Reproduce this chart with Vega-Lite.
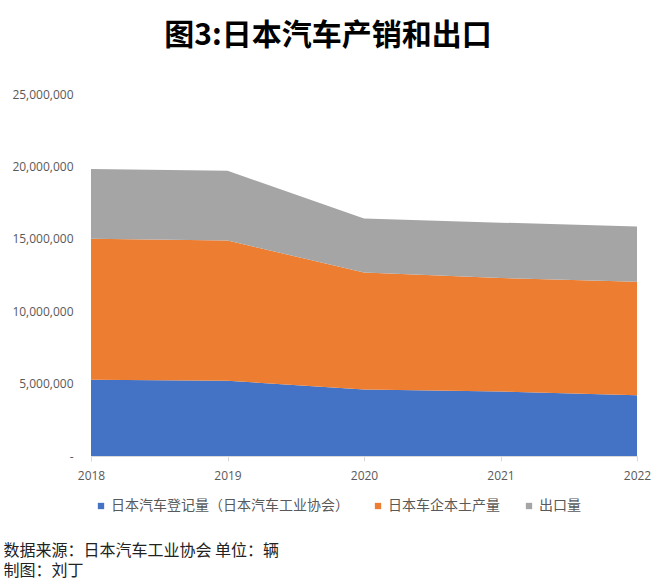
{
  "$schema": "https://vega.github.io/schema/vega-lite/v6.json",
  "width": 546,
  "height": 362,
  "autosize": {"type": "none"},
  "padding": {"left": 91, "top": 94, "right": 23, "bottom": 132},
  "background": "white",
  "config": {"view": {"stroke": null}},
  "title": {
    "text": "图3:日本汽车产销和出口",
    "font": "Noto Sans CJK SC",
    "fontSize": 30,
    "fontWeight": "bold",
    "color": "#000000",
    "anchor": "middle",
    "frame": "group",
    "dx": -36,
    "offset": 37
  },
  "data": {
    "values": [
      {"year": "2018", "series": "日本汽车登记量（日本汽车工业协会）", "value": 5270000},
      {"year": "2019", "series": "日本汽车登记量（日本汽车工业协会）", "value": 5195000},
      {"year": "2020", "series": "日本汽车登记量（日本汽车工业协会）", "value": 4600000},
      {"year": "2021", "series": "日本汽车登记量（日本汽车工业协会）", "value": 4450000},
      {"year": "2022", "series": "日本汽车登记量（日本汽车工业协会）", "value": 4200000},
      {"year": "2018", "series": "日本车企本土产量", "value": 9730000},
      {"year": "2019", "series": "日本车企本土产量", "value": 9685000},
      {"year": "2020", "series": "日本车企本土产量", "value": 8070000},
      {"year": "2021", "series": "日本车企本土产量", "value": 7845000},
      {"year": "2022", "series": "日本车企本土产量", "value": 7835000},
      {"year": "2018", "series": "出口量", "value": 4815000},
      {"year": "2019", "series": "出口量", "value": 4820000},
      {"year": "2020", "series": "出口量", "value": 3740000},
      {"year": "2021", "series": "出口量", "value": 3820000},
      {"year": "2022", "series": "出口量", "value": 3815000}
    ]
  },
  "transform": [
    {"calculate": "indexof(['日本汽车登记量（日本汽车工业协会）','日本车企本土产量','出口量'], datum.series)", "as": "stackOrder"}
  ],
  "mark": {"type": "area", "opacity": 1, "interpolate": "linear"},
  "encoding": {
    "x": {
      "field": "year",
      "type": "ordinal",
      "scale": {"type": "point", "padding": 0},
      "axis": {
        "labelAngle": 0,
        "labelFont": "Open Sans",
        "labelFontSize": 12,
        "labelColor": "#595959",
        "labelPadding": 9,
        "domainColor": "#d9d9d9",
        "tickColor": "#d9d9d9",
        "tickSize": 5,
        "title": ["数据来源：日本汽车工业协会  单位：辆", "制图：刘丁"],
        "titleFont": "Noto Sans CJK SC",
        "titleFontSize": 16,
        "titleFontWeight": "normal",
        "titleColor": "#222222",
        "titleLineHeight": 20,
        "titleAnchor": "start",
        "titleAlign": "left",
        "titleBaseline": "top",
        "titleX": -88,
        "titleY": 86,
        "titleLimit": 1000
      }
    },
    "y": {
      "field": "value",
      "type": "quantitative",
      "stack": "zero",
      "scale": {"domain": [0, 25000000], "nice": false},
      "axis": {
        "title": null,
        "grid": false,
        "domain": false,
        "ticks": false,
        "values": [0, 5000000, 10000000, 15000000, 20000000, 25000000],
        "labelExpr": "datum.value == 0 ? '-\u2002\u2002' : format(datum.value, ',')",
        "labelFont": "Open Sans",
        "labelFontSize": 12,
        "labelColor": "#595959",
        "labelPadding": 18
      }
    },
    "color": {
      "field": "series",
      "type": "nominal",
      "scale": {
        "domain": ["日本汽车登记量（日本汽车工业协会）", "日本车企本土产量", "出口量"],
        "range": ["#4472C4", "#ED7D31", "#A5A5A5"]
      },
      "legend": {
        "orient": "none",
        "legendX": 3,
        "legendY": 405,
        "direction": "horizontal",
        "title": null,
        "padding": 0,
        "symbolType": "square",
        "symbolSize": 40,
        "symbolStrokeWidth": 0,
        "labelFont": "Noto Sans CJK SC",
        "labelFontSize": 14,
        "labelColor": "#595959",
        "labelOffset": 3,
        "columnPadding": 22,
        "labelLimit": 400
      }
    },
    "order": {"field": "stackOrder", "type": "quantitative"}
  }
}
